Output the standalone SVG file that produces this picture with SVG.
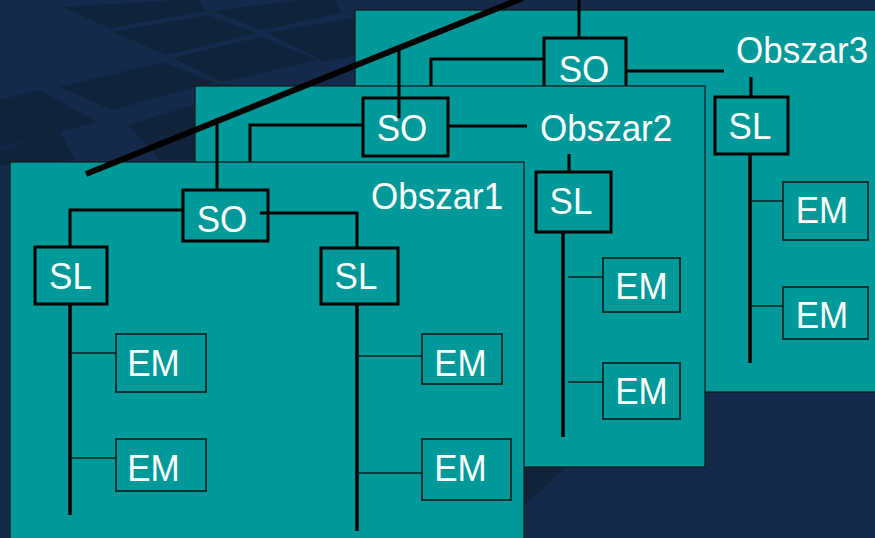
<svg xmlns="http://www.w3.org/2000/svg" width="875" height="538" viewBox="0 0 875 538">
<style>
.panel{fill:#009999;stroke:#0a1a1a;stroke-width:1.2}
.box{fill:#009999;stroke:#000;stroke-width:3}
.em{fill:#009999;stroke:#062828;stroke-width:1.8}
.lbl{font-family:"Liberation Sans",Arial,sans-serif;font-size:35px;fill:#fff;text-anchor:middle}
.title{font-family:"Liberation Sans",Arial,sans-serif;font-size:35px;fill:#fff}
.thick{stroke:#000;stroke-width:3;fill:none}
.bus{stroke:#000;stroke-width:3.5;fill:none}
.thin{stroke:#062020;stroke-width:1.5;fill:none}
.tile{fill:#11223b}
</style>
<g id="background">
<rect width="875" height="538" fill="#15294a"/>
<polygon class="tile" points="63,7 180,0 198,0 205,11 110,28"/>
<polygon class="tile" points="213,11 300,0 335,0 340,13 262,30"/>
<polygon class="tile" points="113,32 207,15 257,33 167,55"/>
<polygon class="tile" points="267,33 355,18 355,55 325,62"/>
<polygon class="tile" points="173,58 260,37 318,60 222,82"/>
<polygon class="tile" points="60,87 163,62 213,82 112,110"/>
<polygon class="tile" points="0,100 40,90 97,122 0,148"/>
<polygon class="tile" points="128,125 193,105 195,160 160,160"/>
<polygon class="tile" points="0,150 60,132 75,160 0,165"/>
<polygon fill="#11223a" points="525,468 565,468 525,505"/>
</g>
<g id="panel3">
<rect class="panel" x="355" y="10" width="525" height="382"/>
</g>
<g id="so3">
<rect class="box" x="544" y="38" width="82" height="52"/>
<text class="lbl" transform="translate(584,82) scale(1,1.07)">SO</text>
</g>
<g id="obszar3"><text class="title" transform="translate(736,63) scale(1,1.07)">Obszar3</text></g>
<g id="sl3">
<rect class="box" x="715" y="97" width="73" height="57"/>
<text class="lbl" transform="translate(750,139) scale(1,1.07)">SL</text>
</g>
<g id="em3a">
<rect class="em" x="783" y="182" width="85" height="58"/>
<text class="lbl" transform="translate(822,223) scale(1,1.07)">EM</text>
</g>
<g id="em3b">
<rect class="em" x="783" y="287" width="85" height="52"/>
<text class="lbl" transform="translate(822,328) scale(1,1.07)">EM</text>
</g>
<g id="connectors3">
<line class="thick" x1="579" y1="0" x2="579" y2="38"/>
<polyline class="thick" points="544,59 431,59 431,90"/>
<line class="thick" x1="626" y1="71" x2="724" y2="71"/>
<line class="thick" x1="751" y1="77" x2="751" y2="97"/>
<line class="bus" x1="750" y1="154" x2="750" y2="363"/>
<line class="thin" x1="750" y1="201" x2="783" y2="201"/>
<line class="thin" x1="750" y1="306" x2="783" y2="306"/>
</g>
<g id="panel2">
<rect class="panel" x="195" y="86" width="510" height="381"/>
</g>
<g id="so2">
<rect class="box" x="363" y="98" width="85" height="58"/>
<text class="lbl" transform="translate(402,141) scale(1,1.07)">SO</text>
</g>
<g id="obszar2"><text class="title" transform="translate(540,141) scale(1,1.07)">Obszar2</text></g>
<g id="sl2">
<rect class="box" x="536" y="172" width="75" height="60"/>
<text class="lbl" transform="translate(571,214) scale(1,1.07)">SL</text>
</g>
<g id="em2a">
<rect class="em" x="603" y="258" width="77" height="54"/>
<text class="lbl" transform="translate(641.5,299) scale(1,1.07)">EM</text>
</g>
<g id="em2b">
<rect class="em" x="603" y="363" width="77" height="56"/>
<text class="lbl" transform="translate(641.5,404) scale(1,1.07)">EM</text>
</g>
<g id="connectors2">
<line class="thick" x1="399" y1="50" x2="399" y2="118"/>
<polyline class="thick" points="363,125 250,125 250,162"/>
<line class="thick" x1="448" y1="126" x2="527" y2="126"/>
<line class="thick" x1="569" y1="154" x2="569" y2="172"/>
<line class="bus" x1="563" y1="232" x2="563" y2="437"/>
<line class="thin" x1="568" y1="277" x2="603" y2="277"/>
<line class="thin" x1="568" y1="382" x2="603" y2="382"/>
</g>
<g id="panel1">
<rect class="panel" x="10" y="162" width="514" height="390"/>
</g>
<g id="so1">
<rect class="box" x="183" y="190" width="85" height="51"/>
<text class="lbl" transform="translate(222,232) scale(1,1.07)">SO</text>
</g>
<g id="obszar1"><text class="title" transform="translate(371,209) scale(1,1.07)">Obszar1</text></g>
<g id="sl1a">
<rect class="box" x="35" y="247" width="72" height="57"/>
<text class="lbl" transform="translate(70.5,289) scale(1,1.07)">SL</text>
</g>
<g id="sl1b">
<rect class="box" x="321" y="248" width="77" height="56"/>
<text class="lbl" transform="translate(356,289) scale(1,1.07)">SL</text>
</g>
<g id="em1a">
<rect class="em" x="116" y="334" width="90" height="58"/>
<text class="lbl" transform="translate(153.5,376) scale(1,1.07)">EM</text>
</g>
<g id="em1b">
<rect class="em" x="116" y="439" width="90" height="52"/>
<text class="lbl" transform="translate(153.5,481) scale(1,1.07)">EM</text>
</g>
<g id="em1c">
<rect class="em" x="422" y="334" width="80" height="50"/>
<text class="lbl" transform="translate(460.5,376) scale(1,1.07)">EM</text>
</g>
<g id="em1d">
<rect class="em" x="422" y="439" width="89" height="61"/>
<text class="lbl" transform="translate(460.5,481) scale(1,1.07)">EM</text>
</g>
<g id="connectors1">
<line x1="86" y1="174" x2="523" y2="-2" stroke="#000" stroke-width="6"/>
<line class="thick" x1="217" y1="118" x2="217" y2="190"/>
<polyline class="thick" points="183,210 70,210 70,247"/>
<polyline class="thick" points="260,213 357,213 357,248"/>
<line class="bus" x1="70" y1="304" x2="70" y2="515"/>
<line class="bus" x1="357" y1="304" x2="357" y2="531"/>
<line class="thin" x1="70" y1="353" x2="116" y2="353"/>
<line class="thin" x1="70" y1="458" x2="116" y2="458"/>
<line class="thin" x1="357" y1="356" x2="422" y2="356"/>
<line class="thin" x1="357" y1="473" x2="422" y2="473"/>
</g>
</svg>
